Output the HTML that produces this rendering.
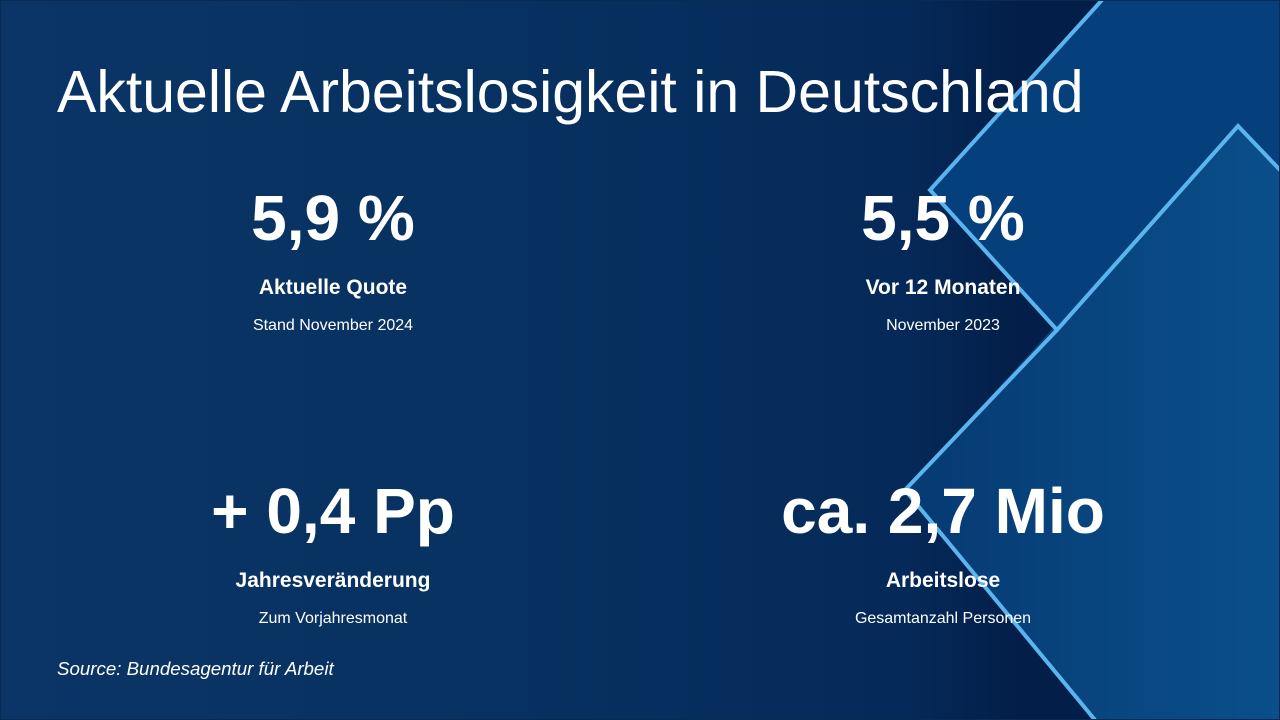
<!DOCTYPE html>
<html><head><meta charset="utf-8"><style>
html,body{margin:0;padding:0;}
body{width:1280px;height:720px;overflow:hidden;position:relative;font-family:"Liberation Sans",sans-serif;color:#fff;
background:linear-gradient(90deg,#0b3566 0%,#073160 40%,#052a5a 70%,#031e48 80%,#041f4a 100%);}
svg{position:absolute;left:0;top:0;}
.t{position:absolute;left:57px;top:57px;font-size:59px;line-height:70px;white-space:nowrap;}
.b{position:absolute;width:500px;text-align:center;}
.v{font-weight:bold;font-size:64px;line-height:70px;}
.l{font-weight:bold;font-size:21px;margin-top:23px;line-height:24px;}
.s{font-size:16px;margin-top:16px;line-height:20px;}
.src{position:absolute;left:57px;top:658px;font-size:18.7px;font-style:italic;}
</style></head><body>
<svg width="1280" height="720">
<defs>
<linearGradient id="g" x1="0" y1="0" x2="1" y2="0">
<stop offset="0" stop-color="#063a72"/><stop offset="1" stop-color="#0a4f8a"/></linearGradient>
</defs>
<polygon points="1102,0 1280,0 1280,170 1238,126 1057,330 930,190" fill="#064483" opacity="0.9"/>
<polygon points="1238,126 1280,170 1280,720 1095,720 905,490" fill="url(#g)"/>
<polyline points="1102,0 930,190 1057,330 1238,126 1280,170" fill="none" stroke="#5ab4ee" stroke-width="4"/>
<polyline points="1057,330 905,490 1095,720" fill="none" stroke="#5ab4ee" stroke-width="4"/>
<rect x="0.5" y="0.5" width="1279" height="719" fill="none" stroke="#0a2a50" stroke-width="1"/>
</svg>
<div class="t">Aktuelle Arbeitslosigkeit in Deutschland</div>
<div class="b" style="left:83px;top:183px"><div class="v">5,9 %</div><div class="l">Aktuelle Quote</div><div class="s">Stand November 2024</div></div>
<div class="b" style="left:693px;top:183px"><div class="v">5,5 %</div><div class="l">Vor 12 Monaten</div><div class="s">November 2023</div></div>
<div class="b" style="left:83px;top:476px"><div class="v">+ 0,4 Pp</div><div class="l">Jahresveränderung</div><div class="s">Zum Vorjahresmonat</div></div>
<div class="b" style="left:693px;top:476px"><div class="v">ca. 2,7 Mio</div><div class="l">Arbeitslose</div><div class="s">Gesamtanzahl Personen</div></div>
<div class="src">Source: Bundesagentur für Arbeit</div>
</body></html>
